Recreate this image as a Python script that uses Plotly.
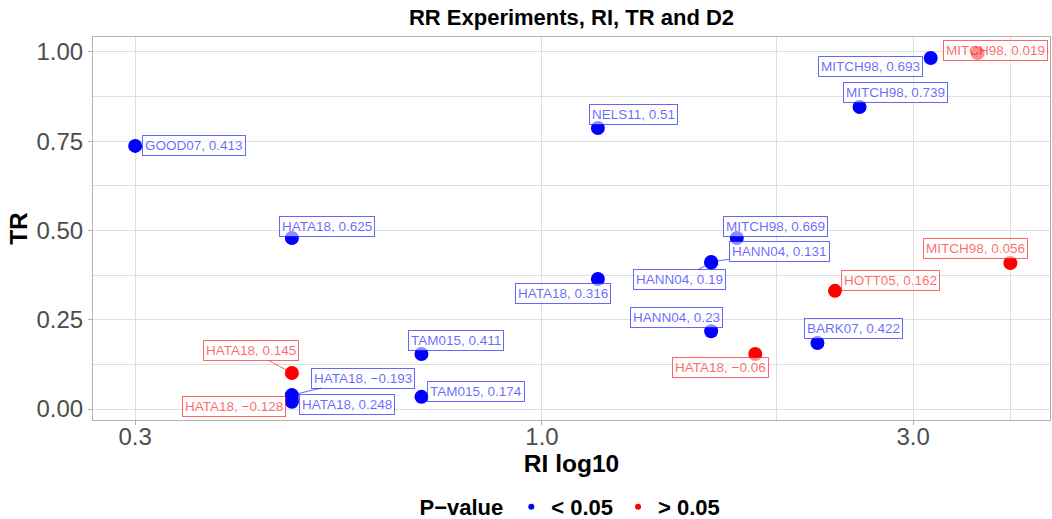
import numpy as np
import plotly.graph_objects as go

# Study records: relative intensity (RI), TR, D2 and significance group
study = ["GOOD07", "HATA18", "NELS11", "MITCH98", "MITCH98", "MITCH98",
         "HANN04", "HANN04", "HATA18", "HANN04", "BARK07", "TAM015",
         "TAM015", "HATA18", "HATA18",
         "MITCH98", "MITCH98", "HOTT05", "HATA18", "HATA18", "HATA18"]
d2 = ["0.413", "0.625", "0.51", "0.693", "0.739", "0.669",
      "0.131", "0.19", "0.316", "0.23", "0.422", "0.411",
      "0.174", "\u22120.193", "0.248",
      "0.019", "0.056", "0.162", "\u22120.06", "0.145", "\u22120.128"]
ri = [0.300, 0.477, 1.18, 3.16, 2.56, 1.78,
      1.65, 1.65, 1.18, 1.65, 2.26, 0.70,
      0.70, 0.477, 0.477,
      3.63, 4.00, 2.38, 1.88, 0.477, 0.477]
tr = [0.737, 0.479, 0.787, 0.983, 0.846, 0.479,
      0.412, 0.410, 0.364, 0.218, 0.185, 0.154,
      0.034, 0.039, 0.020,
      0.997, 0.409, 0.331, 0.154, 0.101, 0.028]
pgroup = ["< 0.05"] * 15 + ["> 0.05"] * 6

group_order = ["< 0.05", "> 0.05"]
group_colors = {"< 0.05": "#0000ff", "> 0.05": "#ff0000"}
label_colors = {"< 0.05": "rgba(0,0,255,0.6)", "> 0.05": "rgba(255,0,0,0.6)"}

# label placement (pixel offset from the point; arrow = draw a connector)
label_dx = [59, 35, 36, -60, 36, 39, 68, -32, -35, -35, 36, 35, 55, 71, 55,
            18, -35, 56, -35, -41, -58]
label_dy = [0, -12, -14, 8, -14, -12, -10, 17, 14, -14, -14, -14, -5, -17, 3,
            -3, -14, -10, 13, -22, 7]
label_arrow = [False, False, False, False, False, False, True, True, False,
               False, False, False, False, True, False,
               False, False, False, False, True, False]

fig = go.Figure()

# red group first so overlapping blue points sit on top
for g in ["> 0.05", "< 0.05"]:
    idx = [i for i, p in enumerate(pgroup) if p == g]
    fig.add_trace(go.Scatter(
        x=[ri[i] for i in idx], y=[tr[i] for i in idx],
        mode="markers", showlegend=False, hoverinfo="skip",
        marker=dict(size=14, color=group_colors[g], line=dict(width=0)),
    ))

# small legend keys
for g in group_order:
    fig.add_trace(go.Scatter(
        x=[None], y=[None], mode="markers", name=g,
        marker=dict(size=6, color=group_colors[g]),
    ))

for i in range(len(study)):
    col = label_colors[pgroup[i]]
    ann = dict(
        x=np.log10(ri[i]), y=tr[i], xref="x", yref="y",
        text=f"{study[i]}, {d2[i]}",
        font=dict(family="Liberation Sans", size=13.5, color=col),
        bgcolor="rgba(255,255,255,0.55)", bordercolor=col,
        borderwidth=1, borderpad=2,
    )
    if label_arrow[i]:
        ann.update(showarrow=True, ax=label_dx[i], ay=label_dy[i],
                   arrowhead=0, arrowwidth=1, arrowcolor=col, standoff=0)
    else:
        ann.update(showarrow=False, xshift=label_dx[i], yshift=-label_dy[i])
    fig.add_annotation(**ann)

grid_major = "#dedede"
frame = "#b3b3b3"

fig.update_layout(
    width=1052, height=519,
    margin=dict(l=93, r=2, t=37, b=99),
    paper_bgcolor="white", plot_bgcolor="white",
    font=dict(family="Liberation Sans", color="black"),
    title=dict(text="RR Experiments, RI, TR and D2", x=0.5, xref="paper",
               y=1 - 17 / 519, yref="container", yanchor="middle",
               font=dict(size=22, weight="bold", color="black")),
    legend=dict(orientation="h", x=0.5, xanchor="center", xref="paper",
                y=1 - 507 / 519, yref="container", yanchor="middle",
                title=dict(text="P\u2212value", side="left",
                           font=dict(size=22, weight="bold")),
                font=dict(size=22, weight="bold", color="black"),
                itemwidth=30),
)

fig.update_xaxes(
    type="log", range=[-0.5771, 0.653],
    tickvals=[0.3, 1, 3], ticktext=["0.3", "1.0", "3.0"],
    tickfont=dict(size=24, color="#4d4d4d"),
    ticks="outside", ticklen=4, tickcolor=frame, tickwidth=1,
    ticklabelstandoff=-9,
    showgrid=True, gridcolor=grid_major, gridwidth=1,
    minor=dict(tickvals=[2, 4], showgrid=True, gridcolor=grid_major,
               gridwidth=0.6, ticks=""),
    showline=True, linecolor=frame, linewidth=1, mirror=True,
    zeroline=False,
    title=dict(text="RI log10", font=dict(size=24.5, weight="bold"),
               standoff=4),
)
fig.update_yaxes(
    range=[-0.0308, 1.042],
    tickvals=[0, 0.25, 0.5, 0.75, 1.0],
    ticktext=["0.00", "0.25", "0.50", "0.75", "1.00"],
    tickfont=dict(size=24, color="#4d4d4d"),
    ticks="outside", ticklen=4, tickcolor=frame, tickwidth=1,
    showgrid=True, gridcolor=grid_major, gridwidth=1,
    minor=dict(tickvals=[0.125, 0.375, 0.625, 0.875], showgrid=True,
               gridcolor=grid_major, gridwidth=0.6, ticks=""),
    showline=True, linecolor=frame, linewidth=1, mirror=True,
    zeroline=False,
    title=dict(text="TR", font=dict(size=24.5, weight="bold"), standoff=1),
)

fig.write_html("out.html")
